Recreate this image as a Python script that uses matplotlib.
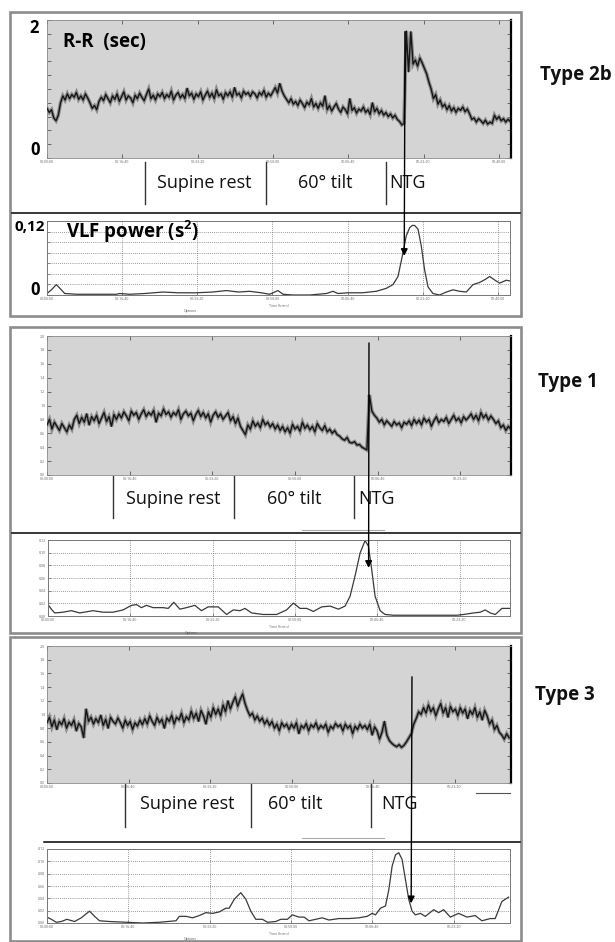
import numpy as np
import matplotlib
matplotlib.use("Agg")
import matplotlib.pyplot as plt
from matplotlib.patches import Rectangle, ConnectionPatch
from matplotlib.lines import Line2D
from matplotlib.ticker import MultipleLocator, FuncFormatter, NullFormatter
import matplotlib.transforms as mtransforms

plt.rcParams['font.family'] = ['Open Sans', 'DejaVu Sans']
plt.rcParams['mathtext.fontset'] = 'custom'
plt.rcParams['mathtext.rm'] = 'Open Sans'
plt.rcParams['mathtext.bf'] = 'Open Sans:bold'

# ---------------- DATA ----------------
type_labels = ["Type 2b", "Type 1", "Type 3"]
phase_labels = ["Supine rest", "60° tilt", "NTG"]

# R-R interval series (sec), sampled every 30 s
rr_step = 30
rr1 = [
    0.72, 0.66, 0.70, 0.58, 0.54, 0.62, 0.80, 0.90, 0.84, 0.93,
    0.86, 0.92, 0.88, 0.95, 0.85, 0.90, 0.84, 0.93, 0.87, 0.80,
    0.72, 0.76, 0.70, 0.82, 0.88, 0.83, 0.92, 0.86, 0.80, 0.90,
    0.85, 0.93, 0.82, 0.89, 0.96, 0.84, 0.90, 0.87, 0.80, 0.91,
    0.86, 0.94, 0.88, 0.83, 0.92, 1.00, 0.86, 0.91, 0.84, 0.93,
    0.89, 0.95, 0.86, 0.92, 0.88, 0.97, 0.84, 0.91, 0.95, 0.87,
    0.92, 0.86, 1.01, 0.90, 0.94, 0.85, 0.93, 0.89, 0.96, 0.84,
    0.91, 0.97, 0.88, 0.94, 0.86, 0.99, 0.90, 0.93, 0.85, 0.95,
    0.90, 0.96, 0.88, 1.02, 0.91, 0.94, 0.87, 0.97, 0.92, 0.95,
    0.89, 0.96, 0.93, 0.87, 0.95, 0.91, 0.98, 0.88, 0.94, 0.90,
    0.96, 1.02, 0.94, 1.08, 0.97, 0.90, 0.85, 0.80, 0.86, 0.78,
    0.82, 0.76, 0.84, 0.79, 0.73, 0.81, 0.77, 0.86, 0.74, 0.79,
    0.72, 0.80, 0.75, 0.90, 0.70, 0.76, 0.68, 0.74, 0.79, 0.71,
    0.66, 0.74, 0.70, 0.64, 0.86, 0.69, 0.73, 0.65, 0.71, 0.68,
    0.74, 0.66, 0.70, 0.63, 0.80, 0.67, 0.72, 0.64, 0.69, 0.62,
    0.66, 0.60, 0.64, 0.58, 0.62, 0.56, 0.53, 0.48, 0.50,
    1.84, 1.25, 1.83, 1.36, 1.42, 1.33, 1.45, 1.38, 1.30, 1.22,
    1.10, 1.00, 0.86, 0.92, 0.78, 0.84, 0.74, 0.78, 0.70, 0.76,
    0.68, 0.73, 0.66, 0.72, 0.69, 0.74, 0.67, 0.71, 0.64, 0.56,
    0.58, 0.52, 0.57, 0.54, 0.50, 0.55, 0.49, 0.52, 0.50, 0.62,
    0.56, 0.60, 0.54, 0.57, 0.52, 0.56, 0.53]
rr2 = [
    0.72, 0.80, 0.66, 0.76, 0.70, 0.64, 0.74, 0.68, 0.62, 0.72,
    0.66, 0.80, 0.86, 0.74, 0.83, 0.76, 0.88, 0.72, 0.84, 0.78,
    0.86, 0.74, 0.82, 0.90, 0.77, 0.84, 0.70, 0.87, 0.80, 0.88,
    0.82, 0.91, 0.85, 0.78, 0.92, 0.86, 0.90, 0.80, 0.88, 0.94,
    0.84, 0.90, 0.86, 0.93, 0.76, 0.89, 0.85, 0.95, 0.87, 0.91,
    0.83, 0.90, 0.86, 0.94, 0.80, 0.88, 0.92, 0.85, 0.89, 0.78,
    0.87, 0.93, 0.84, 0.90, 0.82, 0.88, 0.76, 0.86, 0.91, 0.83,
    0.88, 0.80, 0.85, 0.90, 0.78, 0.84, 0.74, 0.82, 0.70, 0.64,
    0.58, 0.72, 0.66, 0.78, 0.70, 0.75, 0.68, 0.80, 0.72, 0.76,
    0.69, 0.74, 0.66, 0.72, 0.64, 0.70, 0.62, 0.68, 0.60, 0.73,
    0.66, 0.70, 0.63, 0.76, 0.67, 0.72, 0.65, 0.70, 0.62, 0.74,
    0.68, 0.64, 0.71, 0.62, 0.66, 0.60, 0.64, 0.58, 0.56, 0.52,
    0.50, 0.54, 0.47, 0.46, 0.48, 0.43, 0.44, 0.40, 0.38, 0.36,
    1.15, 0.92, 0.86, 0.82, 0.76, 0.80, 0.72, 0.78, 0.74, 0.70,
    0.77, 0.72, 0.75, 0.68, 0.76, 0.73, 0.78, 0.71, 0.80, 0.74,
    0.79, 0.72, 0.82, 0.76, 0.80, 0.70, 0.78, 0.84, 0.75, 0.80,
    0.77, 0.83, 0.74, 0.80, 0.86, 0.78, 0.82, 0.75, 0.84, 0.79,
    0.83, 0.88, 0.80, 0.86, 0.78, 0.90, 0.82, 0.87, 0.79, 0.85,
    0.80, 0.74, 0.78, 0.68, 0.72, 0.64, 0.70, 0.66]
rr3 = [
    0.88, 0.96, 0.82, 0.92, 0.78, 0.90, 0.85, 0.94, 0.80, 0.89,
    0.84, 0.92, 0.76, 0.87, 0.82, 0.66, 1.08, 0.90, 0.96, 0.86,
    0.94, 0.88, 0.99, 0.84, 0.93, 0.80, 0.96, 0.90, 0.86, 0.95,
    0.88, 0.80, 0.92, 0.84, 0.90, 0.78, 0.88, 0.83, 0.92, 0.85,
    0.94, 0.86, 0.98, 0.90, 0.84, 0.96, 0.88, 0.93, 0.80, 0.95,
    0.90, 0.99, 0.86, 0.96, 0.92, 1.02, 0.88, 0.97, 0.92, 1.05,
    0.94, 1.02, 0.90, 1.06, 0.98, 0.86, 1.04, 0.96, 1.10, 1.00,
    1.08, 0.98, 1.14, 1.04, 1.20, 1.08, 1.18, 1.26, 1.12, 1.22,
    1.30, 1.16, 1.06, 0.98, 1.02, 0.92, 0.98, 0.90, 0.95, 0.86,
    0.92, 0.84, 0.90, 0.80, 0.86, 0.76, 0.88, 0.82, 0.86, 0.78,
    0.86, 0.80, 0.88, 0.72, 0.84, 0.80, 0.87, 0.76, 0.85, 0.81,
    0.88, 0.78, 0.84, 0.80, 0.86, 0.74, 0.83, 0.79, 0.87, 0.82,
    0.85, 0.76, 0.86, 0.80, 0.84, 0.72, 0.83, 0.78, 0.86, 0.80,
    0.84, 0.78, 0.86, 0.70, 0.82, 0.76, 0.64, 0.74, 0.90, 0.70,
    0.62, 0.58, 0.55, 0.53, 0.56, 0.52, 0.55, 0.60, 0.66, 0.72,
    0.86, 0.94, 1.04, 1.00, 1.10, 1.02, 1.14, 1.04, 1.10, 0.98,
    1.08, 1.16, 1.02, 1.10, 0.96, 1.12, 1.04, 1.08, 0.98, 1.10,
    1.02, 1.08, 0.94, 1.06, 1.00, 1.10, 0.96, 1.04, 0.92, 1.06,
    0.98, 0.86, 0.92, 0.78, 0.84, 0.74, 0.70, 0.64, 0.72, 0.66]

# VLF power (s^2) at irregular times (s)
vlf1_t = [0, 58, 124, 191, 235, 400, 700, 922, 967, 1100, 1300, 1543, 1750,
          1987, 2200, 2386, 2550, 2696, 2850, 2962, 3073, 3140, 3273, 3494,
          3716, 3805, 3871, 4000, 4200, 4381, 4514, 4603, 4670, 4736, 4780,
          4825, 4860, 4891, 4936, 4980, 5024, 5069, 5135, 5224, 5313, 5401,
          5490, 5579, 5667, 5756, 5830, 5889, 5960, 6022, 6111, 6155]
vlf1 = [0.0028, 0.0098, 0.0196, 0.0098, 0.0028, 0.0014, 0.0014, 0.0014, 0.0028,
        0.0014, 0.0028, 0.0056, 0.0042, 0.0042, 0.0056, 0.0084, 0.0056, 0.0070,
        0.0042, 0.0014, 0.0084, 0.0014, 0.0000, 0.0000, 0.0028, 0.0070, 0.0028,
        0.0042, 0.0042, 0.0070, 0.0126, 0.0196, 0.0350, 0.0798, 0.1120, 0.1274,
        0.1316, 0.1316, 0.1246, 0.0924, 0.0476, 0.0154, 0.0028, 0.0000, 0.0056,
        0.0098, 0.0070, 0.0056, 0.0196, 0.0238, 0.0294, 0.0350, 0.0280, 0.0224,
        0.0280, 0.0266]
vlf2_t = [0, 41, 81, 182, 284, 385, 547, 669, 791, 912, 1014, 1075, 1135, 1196,
          1277, 1399, 1460, 1529, 1602, 1683, 1784, 1865, 1946, 2068, 2170,
          2251, 2332, 2393, 2474, 2616, 2778, 2899, 2981, 3062, 3143, 3224,
          3325, 3427, 3528, 3609, 3670, 3731, 3792, 3852, 3893, 3933, 3974,
          4035, 4096, 4197, 4600, 4968, 5049, 5170, 5251, 5312, 5373, 5434,
          5515, 5616]
vlf2 = [0.0180, 0.0108, 0.0048, 0.0060, 0.0084, 0.0048, 0.0084, 0.0060, 0.0060,
        0.0096, 0.0168, 0.0180, 0.0132, 0.0168, 0.0132, 0.0132, 0.0120, 0.0216,
        0.0108, 0.0132, 0.0168, 0.0084, 0.0144, 0.0144, 0.0024, 0.0096, 0.0084,
        0.0120, 0.0048, 0.0024, 0.0024, 0.0096, 0.0204, 0.0120, 0.0120, 0.0072,
        0.0144, 0.0156, 0.0108, 0.0156, 0.0312, 0.0636, 0.0996, 0.1190, 0.1104,
        0.0732, 0.0312, 0.0084, 0.0024, 0.0012, 0.0012, 0.0012, 0.0024, 0.0048,
        0.0060, 0.0096, 0.0048, 0.0024, 0.0120, 0.0120]
vlf3_t = [0, 53, 114, 176, 245, 339, 421, 523, 585, 646, 769, 973, 1177, 1382,
          1586, 1627, 1709, 1790, 1872, 1954, 2036, 2118, 2199, 2240, 2302,
          2383, 2445, 2506, 2567, 2649, 2711, 2813, 2874, 2956, 3017, 3099,
          3160, 3222, 3303, 3385, 3467, 3590, 3712, 3835, 3937, 3998, 4039,
          4100, 4162, 4203, 4244, 4285, 4325, 4366, 4407, 4448, 4489, 4530,
          4591, 4652, 4755, 4816, 4877, 4959, 5061, 5164, 5266, 5348, 5450,
          5511, 5593, 5675]
vlf3 = [0.0096, 0.0060, 0.0012, 0.0024, 0.0060, 0.0024, 0.0084, 0.0192, 0.0108,
        0.0036, 0.0024, 0.0012, 0.0000, 0.0012, 0.0036, 0.0108, 0.0108, 0.0084,
        0.0120, 0.0168, 0.0156, 0.0180, 0.0240, 0.0240, 0.0384, 0.0492, 0.0384,
        0.0192, 0.0060, 0.0060, 0.0012, 0.0024, 0.0060, 0.0060, 0.0132, 0.0096,
        0.0096, 0.0036, 0.0060, 0.0084, 0.0048, 0.0072, 0.0072, 0.0084, 0.0108,
        0.0156, 0.0132, 0.0240, 0.0276, 0.0540, 0.0924, 0.1104, 0.1140, 0.1032,
        0.0708, 0.0384, 0.0192, 0.0132, 0.0156, 0.0108, 0.0216, 0.0168, 0.0216,
        0.0096, 0.0156, 0.0096, 0.0120, 0.0036, 0.0072, 0.0072, 0.0348, 0.0420]

t_end = [6160, 5613, 5693]                    # recording length (s)
phase_bounds = [[1301, 2907, 4500], [798, 2262, 3714], [957, 2503, 3975]]
phase_text_t = [[2084, 3691, 4540], [1524, 2988, 3762], [1718, 3043, 4098]]
ntg_time = [4753, 3895, 4478]
vlf_max = [0.14, 0.12, 0.12]

# ---------------- LAYOUT ----------------
W, H = 615, 942
fig = plt.figure(figsize=(W / 100, H / 100), dpi=100)
fig.patch.set_facecolor('white')


def rect(x0, y0, x1, y1):
    return [x0 / W, 1 - y1 / H, (x1 - x0) / W, (y1 - y0) / H]


def hms(v, pos=None):
    v = int(round(v))
    return "%02d:%02d:%02d" % (v // 3600, (v % 3600) // 60, v % 60)


rr_rects = [(47, 20, 511, 158), (47, 336, 511, 475), (47, 646, 511, 783)]
vlf_rects = [(47, 221, 510, 295), (48, 540, 510, 616), (47, 849, 510, 923)]
boxes = [(10, 12, 521, 316), (10, 327, 521, 633), (10, 637, 521, 941)]
dividers = [(12, 520, 213), (12, 520, 533), (44, 520, 842)]
bar_y = [(-0.03, -0.33), (-0.01, -0.31), (-0.01, -0.32)]
text_y = [-0.18, -0.173, -0.153]
arrow_y = [(1.83, 0.074), (1.90, 0.076), (1.55, 0.032)]
type_pos = [(576, 75), (568, 382), (565, 695)]

rr_all = [rr1, rr2, rr3]
vlf_all = [(vlf1_t, vlf1), (vlf2_t, vlf2), (vlf3_t, vlf3)]

for i in range(3):
    x0, y0, x1, y1 = boxes[i]
    fig.add_artist(Rectangle((x0 / W, 1 - y1 / H), (x1 - x0) / W, (y1 - y0) / H,
                             transform=fig.transFigure, fill=False,
                             edgecolor='#8c8c8c', lw=1.9, zorder=0))
    dx0, dx1, dy = dividers[i]
    fig.add_artist(Line2D([dx0 / W, dx1 / W], [1 - dy / H] * 2, color='black', lw=1.1))

    # R-R axes
    ax = fig.add_axes(rect(*rr_rects[i]))
    ax.set_facecolor('#d4d4d4')
    rr = np.array(rr_all[i])
    t = np.arange(len(rr)) * rr_step
    ax.plot(t, rr, color='#8a8a8a', lw=2.6, zorder=2, solid_joinstyle='miter')
    ax.plot(t, rr, color='#161616', lw=1.0, zorder=3)
    ax.set_xlim(0, t_end[i])
    ax.set_ylim(0, 2.0)
    ax.xaxis.set_major_locator(MultipleLocator(1000))
    ax.yaxis.set_major_locator(MultipleLocator(0.2))
    ax.xaxis.set_major_formatter(FuncFormatter(hms))
    ax.yaxis.set_major_formatter(FuncFormatter(lambda v, p: "%.1f" % v))
    if i == 0:
        ax.yaxis.set_major_formatter(NullFormatter())
    ax.tick_params(direction='in', length=3, width=0.6, colors='#555',
                   labelsize=2.6, labelcolor='#666', top=True, right=True, pad=1.2)
    for s in ['top', 'left', 'bottom']:
        ax.spines[s].set_color('#8a8a8a')
        ax.spines[s].set_linewidth(0.6)
    ax.spines['right'].set_color('black')
    ax.spines['right'].set_linewidth(1.6)

    trans = mtransforms.blended_transform_factory(ax.transData, ax.transAxes)
    for tb in phase_bounds[i]:
        ax.plot([tb, tb], list(bar_y[i]), transform=trans, clip_on=False,
                color='#333', lw=1.0)
    for j, (tt, lab) in enumerate(zip(phase_text_t[i], phase_labels)):
        ax.text(tt, text_y[i], lab, transform=trans, ha='left' if j == 2 else 'center',
                va='center', fontsize=13, color='#111')

    # VLF axes
    av = fig.add_axes(rect(*vlf_rects[i]))
    vt, vv = vlf_all[i]
    av.plot(vt, vv, color='#3a3a3a', lw=0.9)
    av.set_xlim(0, t_end[i])
    av.set_ylim(0, vlf_max[i])
    av.xaxis.set_major_locator(MultipleLocator(1000))
    av.yaxis.set_major_locator(MultipleLocator(0.02))
    av.xaxis.set_major_formatter(FuncFormatter(hms))
    av.yaxis.set_major_formatter(FuncFormatter(lambda v, p: "%.2f" % v))
    if i == 0:
        av.yaxis.set_major_formatter(NullFormatter())
    av.grid(True, color='#777', lw=0.6, linestyle=(0, (1, 1.5)))
    av.tick_params(direction='in', length=2, width=0.5, colors='#666',
                   labelsize=2.6, labelcolor='#666', pad=1.2)
    for s in av.spines.values():
        s.set_color('#777')
        s.set_linewidth(0.7)
    av.text(0.5, -0.15, "Time (h:m:s)", transform=av.transAxes, fontsize=2.5,
            color='#666', ha='center', va='center')
    av.text(0.31, -0.22, "Options", transform=av.transAxes, fontsize=2.5,
            color='#555', ha='center', va='center')

    # NTG arrow
    ya, yb = arrow_y[i]
    con = ConnectionPatch(xyA=(ntg_time[i], ya), coordsA=ax.transData,
                          xyB=(ntg_time[i], yb), coordsB=av.transData,
                          arrowstyle='-|>', mutation_scale=10, lw=1.0,
                          color='black', shrinkA=0, shrinkB=0, zorder=10)
    fig.add_artist(con)

    tx, ty = type_pos[i]
    fig.text(tx / W, 1 - ty / H, type_labels[i], ha='center', va='center',
             fontsize=13.5, fontweight='bold', color='#111')

# small grey artefact lines of the original software windows
fig.add_artist(Line2D([302 / W, 384 / W], [1 - 530 / H] * 2, color='#aaa', lw=0.8))
fig.add_artist(Line2D([302 / W, 384 / W], [1 - 838 / H] * 2, color='#aaa', lw=0.8))
fig.add_artist(Line2D([476 / W, 510 / W], [1 - 793 / H] * 2, color='#555', lw=0.8))

# overlay axis annotations on the first panel
fig.text(34 / W, 1 - 28 / H, "2", ha='center', va='center', fontsize=12, fontweight='bold')
fig.text(35 / W, 1 - 150 / H, "0", ha='center', va='center', fontsize=12, fontweight='bold')
fig.text(63 / W, 1 - 42 / H, "R-R  (sec)", ha='left', va='center', fontsize=13.5,
         fontweight='bold')
fig.text(30 / W, 1 - 227 / H, "0,12", ha='center', va='center', fontsize=11,
         fontweight='bold')
fig.text(35 / W, 1 - 290 / H, "0", ha='center', va='center', fontsize=12, fontweight='bold')
fig.text(66 / W, 1 - 232 / H, r"VLF power (s$^{\mathbf{2}}$)", ha='left', va='center',
         fontsize=13.5, fontweight='bold')

fig.savefig("out.png", dpi=100)
